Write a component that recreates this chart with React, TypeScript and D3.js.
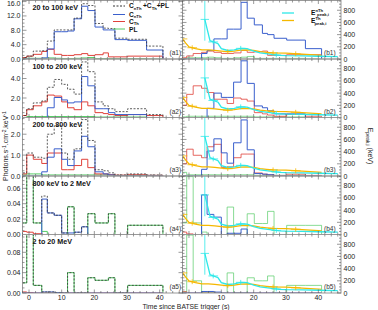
import React from "react";
import * as d3 from "d3";

// ---------- data ----------
const edges = [-2, -0.7, 1.3, 3.9, 5.6, 7.7, 10, 11.8, 13.8, 16.1, 18, 20.2, 22.7, 24.3, 26.3, 30.2, 36, 41];
const bandLabels = ["20 to 100 keV", "100 to 200 keV", "200 to 800 keV", "800 keV to 2 MeV", "2 to 20 MeV"];
const leftMax = [16.3, 6.0, 2.8, 0.076, 0.115];
const leftTicks = [[0, 4, 8, 12, 16], [0, 2, 4], [0, 1, 2], [0, 0.02, 0.04, 0.06], [0, 0.04, 0.08]];
const leftTickDigits = [1, 1, 1, 2, 2];
const leftMinorStep = [1, 0.5, 0.25, 0.005, 0.01];

// left panels (photon flux), one value per time bin
const totalA = [
  [0.4, 0.8, 2.2, 2.3, 5.0, 8.1, 8.1, 8.1, 11.4, 15.4, 14.9, 9.9, 8.6, 8.5, 5.8, 5.5, 3.6],
  [0.2, 0.9, 1.5, 1.7, 3.1, 3.9, 3.4, 2.9, 2.4, 5.7, 4.7, 1.6, 1.2, 0.9, 0.6, 0.9, 0.3],
  [0.15, 1.1, 0.9, 0.85, 2.0, 2.4, 1.1, 0.8, 1.3, 2.7, 1.7, 0.3, 0.25, 0.15, 0.05, 0.1, 0.05],
  [0.015, 0.09, 0.015, 0.05, 0.028, 0.025, 0.002, 0.036, 0.003, 0.01, 0.027, 0.015, 0.015, 0.027, 0.0, 0.012, 0.012],
  [0.02, 0.13, 0.015, 0.002, 0.002, 0.001, 0.0, 0.04, 0.0, 0.0, 0.03, 0.025, 0.025, 0.03, 0.0, 0.015, 0.015],
];
const nthA = [
  [0, 0, 0, 0.3, 2.8, 7.6, 7.6, 7.8, 11.2, 14.7, 13.5, 8.9, 8.1, 8.1, 5.4, 5.2, 2.5],
  [0, 0, 0, 0, 1.0, 2.05, 1.8, 1.5, 1.6, 4.2, 3.25, 0.9, 0.9, 0.5, 0.3, 0.3, 0.0],
  [0, 0, 0, 0.2, 0.9, 1.3, 0.8, 0.5, 1.2, 1.9, 1.4, 0.2, 0.1, 0.05, 0.0, 0.0, 0.0],
  [0, 0, 0, 0.046, 0.028, 0.025, 0.002, 0.002, 0.003, 0.01, 0.0, 0.0, 0.0, 0.0, 0.0, 0.0, 0.0],
  [0, 0, 0, 0.002, 0.002, 0.001, 0.0, 0.0, 0.0, 0.0, 0.0, 0.0, 0.0, 0.0, 0.0, 0.0, 0.0],
];
const thA = [
  [0.4, 0.8, 1.3, 2.1, 2.7, 1.3, 1.0, 1.0, 1.2, 1.5, 1.0, 1.2, 1.7, 0.6, 0.6, 0.8, 0.8],
  [0.2, 0.8, 1.2, 1.6, 2.3, 2.2, 1.6, 1.0, 0.8, 1.6, 1.2, 0.5, 0.4, 0.3, 0.2, 0.3, 0.2],
  [0.1, 1.0, 0.8, 0.6, 1.1, 1.1, 0.3, 0.3, 0.5, 0.8, 0.4, 0.1, 0.1, 0.06, 0.04, 0.06, 0.03],
  [0.004, 0.003, 0.001, 0.0, 0.0, 0.0, 0.0, 0.0, 0.0, 0.0, 0.0, 0.0, 0.0, 0.0, 0.0, 0.0, 0.0],
  [0.002, 0.001, 0.0, 0.0, 0.0, 0.0, 0.0, 0.0, 0.0, 0.0, 0.0, 0.0, 0.0, 0.0, 0.0, 0.0, 0.0],
];
const plA = [
  [0.1, 0.2, 0.2, 0.2, 0.3, 0.2, 0.1, 0.1, 0.2, 0.3, 0.4, 0.1, 0.1, 0.1, 0.1, 0.1, 0.0],
  [0.0, 0.1, 0.1, 0.1, 0.1, 0.1, 0.1, 0.1, 0.1, 0.1, 0.1, 0.05, 0.05, 0.05, 0.05, 0.05, 0.0],
  [0.05, 0.1, 0.1, 0.05, 0.05, 0.05, 0.05, 0.05, 0.05, 0.05, 0.05, 0.05, 0.05, 0.05, 0.02, 0.02, 0.0],
  [0.015, 0.09, 0.015, 0.004, 0.0, 0.0, 0.0, 0.036, 0.0, 0.0, 0.027, 0.015, 0.015, 0.027, 0.0, 0.012, 0.012],
  [0.02, 0.13, 0.015, 0.0, 0.0, 0.0, 0.0, 0.04, 0.0, 0.0, 0.03, 0.025, 0.025, 0.03, 0.0, 0.015, 0.015],
];

// right panels (histograms drawn on the keV axis)
const nthB = [
  [0, 0, 0, 90, 140, 330, 330, 490, 490, 930, 670, 560, 420, 400, 340, 310, 170],
  [0, 0, 0, 0, 150, 400, 330, 330, 580, 930, 560, 190, 160, 110, 60, 60, 0],
  [0, 0, 0, 110, 410, 610, 380, 210, 545, 920, 430, 40, 30, 20, 0, 0, 0],
  [0, 0, 0, 650, 330, 285, 0, 20, 20, 90, 0, 0, 0, 0, 0, 0, 0],
  [0, 0, 0, 25, 25, 15, 0, 0, 0, 0, 0, 0, 0, 0, 0, 0, 0],
];
const thB = [
  [20, 50, 90, 110, 130, 110, 90, 90, 100, 140, 110, 120, 130, 60, 60, 70, 70],
  [200, 380, 520, 480, 410, 300, 300, 230, 320, 300, 270, 80, 60, 40, 20, 50, 20],
  [200, 440, 340, 300, 480, 520, 140, 150, 300, 360, 360, 50, 30, 20, 10, 30, 10],
  [40, 10, 0, 0, 0, 0, 0, 0, 0, 0, 0, 0, 0, 0, 0, 0, 0],
  [20, 0, 0, 0, 0, 0, 0, 0, 0, 0, 0, 0, 0, 0, 0, 0, 0],
];
const plB = [
  [10, 20, 20, 20, 30, 20, 10, 10, 20, 30, 40, 10, 10, 10, 10, 10, 0],
  [10, 20, 20, 20, 20, 20, 20, 20, 20, 20, 20, 10, 10, 10, 10, 10, 0],
  [60, 20, 20, 20, 20, 20, 20, 20, 20, 20, 20, 10, 10, 10, 10, 10, 0],
  [190, 950, 190, 40, 0, 0, 0, 450, 0, 0, 340, 180, 180, 380, 0, 150, 150],
  [20, 950, 200, 10, 10, 0, 0, 330, 0, 0, 250, 200, 200, 280, 0, 125, 125],
];

// peak energies (same curves in every right panel)
const epNthT = [4.9, 6.5, 7.5, 9, 10, 12, 14, 16, 18, 20, 22, 25, 28, 30, 35, 40, 46];
const epNthV = [650, 300, 280, 250, 170, 140, 150, 175, 170, 130, 100, 80, 60, 55, 50, 45, 40];
const epNthErrT = [4.9, 7.5, 16, 27];
const epThT = [-2, -1, 0, 2, 4, 6, 8, 10, 12, 14, 16, 18, 20, 22, 24, 26, 30, 35, 40, 41];
const epThV = [330, 260, 200, 170, 150, 150, 140, 130, 120, 130, 145, 150, 140, 120, 110, 100, 95, 80, 65, 60];
const epThErrT = [-2, 1, 12, 26, 33];

const xTicks = [0, 10, 20, 30, 40];
const rightTicks = [0, 200, 400, 600, 800];

// ---------- layout ----------
const W = 378, H = 310;
const LX0 = 22.5, LX1 = 182.5, RX0 = 182.5, RX1 = 341;
const PT = 0.5, PH = 58.5;
const tDomain: [number, number] = [-2, 47];
const C_TOT = "#333333", C_NTH = "#3a5fcd", C_TH = "#e0413a", C_PL = "#55cc66", C_EN = "#2ee8e8", C_ET = "#f5b800";
const FONT = "Liberation Sans, Arial, sans-serif";

function histPath(x: d3.ScaleLinear<number, number>, y: d3.ScaleLinear<number, number>, vals: number[]) {
  const pts: [number, number][] = [[edges[0], 0]];
  vals.forEach((v, i) => pts.push([edges[i], v]));
  pts.push([edges[edges.length - 1], vals[vals.length - 1]]);
  pts.push([edges[edges.length - 1], 0]);
  const line = d3.line<[number, number]>().x(d => x(d[0])).y(d => y(d[1])).curve(d3.curveStepAfter);
  return line(pts) || "";
}

function interp(ts: number[], vs: number[], t: number) {
  for (let i = 0; i < ts.length - 1; i++) {
    if (t >= ts[i] && t <= ts[i + 1]) return vs[i] + (vs[i + 1] - vs[i]) * (t - ts[i]) / (ts[i + 1] - ts[i]);
  }
  return vs[vs.length - 1];
}

function Panel({ i }: { i: number }) {
  const top = PT + i * PH;
  const bot = top + PH;
  const xl = d3.scaleLinear().domain(tDomain).range([LX0, LX1]);
  const xr = d3.scaleLinear().domain(tDomain).range([RX0, RX1]);
  const yl = d3.scaleLinear().domain([0, leftMax[i]]).range([bot, top]);
  const yr = d3.scaleLinear().domain([0, 960]).range([bot, top]);
  const fmt = d3.format(`.${leftTickDigits[i]}f`);
  const minorX = d3.range(-2, 47.01, 2);
  const minorYL = d3.range(0, leftMax[i] + 1e-9, leftMinorStep[i]);
  const minorYR = d3.range(0, 960, 50);
  const clipL = `clipL${i}`, clipR = `clipR${i}`;
  const enLine = d3.line<number>().x(t => xr(t)).y((_, k) => yr(epNthV[k]));
  const etLine = d3.line<number>().x(t => xr(t)).y((_, k) => yr(epThV[k]));
  return (
    <g>
      <defs>
        <clipPath id={clipL}><rect x={LX0} y={top} width={LX1 - LX0} height={PH} /></clipPath>
        <clipPath id={clipR}><rect x={RX0} y={top} width={RX1 - RX0} height={PH} /></clipPath>
      </defs>
      <g clipPath={`url(#${clipL})`} fill="none" strokeWidth={1}>
        <path d={histPath(xl, yl, plA[i])} stroke={C_PL} />
        <path d={histPath(xl, yl, thA[i])} stroke={C_TH} />
        <path d={histPath(xl, yl, nthA[i])} stroke={C_NTH} />
        <path d={histPath(xl, yl, totalA[i])} stroke={C_TOT} strokeDasharray="2,1.5" strokeWidth={0.8} />
      </g>
      <g clipPath={`url(#${clipR})`} fill="none">
        <path d={histPath(xr, yr, plB[i])} stroke={C_PL} strokeOpacity={0.7} />
        <path d={histPath(xr, yr, thB[i])} stroke={C_TH} strokeOpacity={0.8} />
        <path d={histPath(xr, yr, nthB[i])} stroke={C_NTH} />
        <path d={etLine(epThT) || ""} stroke={C_ET} strokeWidth={1.3} />
        <path d={enLine(epNthT) || ""} stroke={C_EN} strokeWidth={1.3} />
        {epThErrT.map((t, k) => {
          const v = interp(epThT, epThV, t);
          return <g key={"et" + k} stroke={C_ET} strokeWidth={0.8}>
            <line x1={xr(t)} x2={xr(t)} y1={yr(v + 40)} y2={yr(v - 40)} />
            <line x1={xr(t - 1.5)} x2={xr(t + 1.5)} y1={yr(v)} y2={yr(v)} />
          </g>;
        })}
        {epNthErrT.map((t, k) => {
          const v = interp(epNthT, epNthV, t);
          const big = k === 0;
          return <g key={"en" + k} stroke={C_EN} strokeWidth={0.8}>
            <line x1={xr(t)} x2={xr(t)} y1={yr(big ? 1000 : v + 40)} y2={yr(big ? 300 : v - 40)} />
            <line x1={xr(t - (big ? 1.3 : 1.5))} x2={xr(t + (big ? 1.3 : 1.5))} y1={yr(v)} y2={yr(v)} />
          </g>;
        })}
      </g>
      <rect x={LX0} y={top} width={LX1 - LX0} height={PH} fill="none" stroke="#999" strokeWidth={1} />
      <rect x={RX0} y={top} width={RX1 - RX0} height={PH} fill="none" stroke="#999" strokeWidth={1} />
      <g stroke="#555" strokeWidth={0.6}>
        {minorX.map(t => {
          const major = t % 10 === 0;
          const len = major ? 3.5 : 2;
          return <g key={"mx" + t}>
            <line x1={xl(t)} x2={xl(t)} y1={bot} y2={bot - len} />
            <line x1={xl(t)} x2={xl(t)} y1={top} y2={top + len} />
            <line x1={xr(t)} x2={xr(t)} y1={bot} y2={bot - len} />
            <line x1={xr(t)} x2={xr(t)} y1={top} y2={top + len} />
          </g>;
        })}
        {minorYL.map((v, k) => {
          const major = leftTicks[i].some(m => Math.abs(m - v) < 1e-9);
          const len = major ? 4 : 2;
          return <g key={"myl" + k}>
            <line x1={LX0} x2={LX0 + len} y1={yl(v)} y2={yl(v)} />
            <line x1={LX1} x2={LX1 - len} y1={yl(v)} y2={yl(v)} />
          </g>;
        })}
        {minorYR.map((v, k) => {
          const major = v % 200 === 0;
          const len = major ? 4 : 2;
          return <g key={"myr" + k}>
            <line x1={RX1} x2={RX1 - len} y1={yr(v)} y2={yr(v)} />
            <line x1={RX0} x2={RX0 + len} y1={yr(v)} y2={yr(v)} />
          </g>;
        })}
      </g>
      <g fontFamily={FONT} fontSize={7} fill="#222">
        {leftTicks[i].map(v => (
          <text key={"tl" + v} x={LX0 - 2} y={Math.max(yl(v) + 2.5, 5.5)} textAnchor="end">{fmt(v)}</text>
        ))}
        {rightTicks.map(v => (
          <text key={"tr" + v} x={RX1 + 2.5} y={yr(v) + 2.5} textAnchor="start">{v}</text>
        ))}
      </g>
      <text x={LX0 + 10} y={top + 9.5} fontFamily={FONT} fontSize={7.2} fontWeight="bold" fill="#111">{bandLabels[i]}</text>
      <text x={LX1 - 13} y={bot - 4} fontFamily={FONT} fontSize={6.5} fill="#333">{`(a${i + 1})`}</text>
      <text x={RX1 - 17} y={bot - 4} fontFamily={FONT} fontSize={6.5} fill="#333">{`(b${i + 1})`}</text>
    </g>
  );
}

function Sub({ base, sup, sub, x, y }: { base: string; sup?: string; sub?: string; x: number; y: number }) {
  return (
    <text x={x} y={y} fontFamily={FONT} fontSize={6.6} fontWeight="bold" fill="#111">
      {base}
      {sup ? <tspan fontSize={4.2} dy={-2.8}>{sup}</tspan> : null}
      {sub ? <tspan fontSize={4.2} dx={sup ? -6 : 0} dy={sup ? 4.3 : 1.5}>{sub}</tspan> : null}
    </text>
  );
}

export default function App() {
  const panels = [0, 1, 2, 3, 4];
  const xl = d3.scaleLinear().domain(tDomain).range([LX0, LX1]);
  const xr = d3.scaleLinear().domain(tDomain).range([RX0, RX1]);
  const botAll = PT + 5 * PH;
  return (
    <svg width={W} height={H} style={{ position: "absolute", left: 0, top: 0 }}>
      <rect width={W} height={H} fill="#fff" />
      {panels.map(i => <Panel key={i} i={i} />)}
      <g fontFamily={FONT} fontSize={7} fill="#222" textAnchor="middle">
        {xTicks.map(t => <text key={"xl" + t} x={xl(t)} y={botAll + 7}>{t}</text>)}
        {xTicks.map(t => <text key={"xr" + t} x={xr(t)} y={botAll + 7}>{t}</text>)}
      </g>
      <text x={186} y={308.5} fontFamily={FONT} fontSize={6.8} fill="#222" textAnchor="middle">Time since BATSE trigger (s)</text>
      <text transform="translate(8,146) rotate(-90)" fontFamily={FONT} fontSize={7} fill="#222" textAnchor="middle">
        Photons.s<tspan fontSize={5} dy={-2.5}>-1</tspan><tspan dy={2.5}>.cm</tspan><tspan fontSize={5} dy={-2.5}>-2</tspan><tspan dy={2.5}>.keV</tspan><tspan fontSize={5} dy={-2.5}>-1</tspan>
      </text>
      <text transform="translate(368,146) rotate(90)" fontFamily={FONT} fontSize={7} fill="#222" textAnchor="middle">
        E<tspan fontSize={5} dy={2}>peak,i</tspan><tspan dy={-2}> (keV)</tspan>
      </text>
      <g>
        <line x1={113} x2={125} y1={6} y2={6} stroke={C_TOT} strokeDasharray="2,1.5" />
        <Sub x={129} y={8.3} base="C" sub="nTh" />
        <text x={143} y={8.3} fontFamily={FONT} fontSize={6.6} fontWeight="bold" fill="#111">+C<tspan fontSize={4.2} dy={1.5}>Th</tspan><tspan dy={-1.5}>+PL</tspan></text>
        <line x1={113} x2={125} y1={14.5} y2={14.5} stroke={C_NTH} />
        <Sub x={129} y={16.8} base="C" sub="nTh" />
        <line x1={113} x2={125} y1={21.5} y2={21.5} stroke={C_TH} />
        <Sub x={129} y={23.8} base="C" sub="Th" />
        <line x1={113} x2={125} y1={29} y2={29} stroke={C_PL} />
        <Sub x={129} y={31.5} base="PL" />
      </g>
      <g>
        <line x1={282} x2={294} y1={13} y2={13} stroke={C_EN} strokeWidth={1.3} />
        <Sub x={311} y={14.5} base="E" sup="nTh" sub="peak,i" />
        <line x1={282} x2={294} y1={20.5} y2={20.5} stroke={C_ET} strokeWidth={1.3} />
        <Sub x={311} y={23} base="E" sup="Th" sub="peak,i" />
      </g>
    </svg>
  );
}
